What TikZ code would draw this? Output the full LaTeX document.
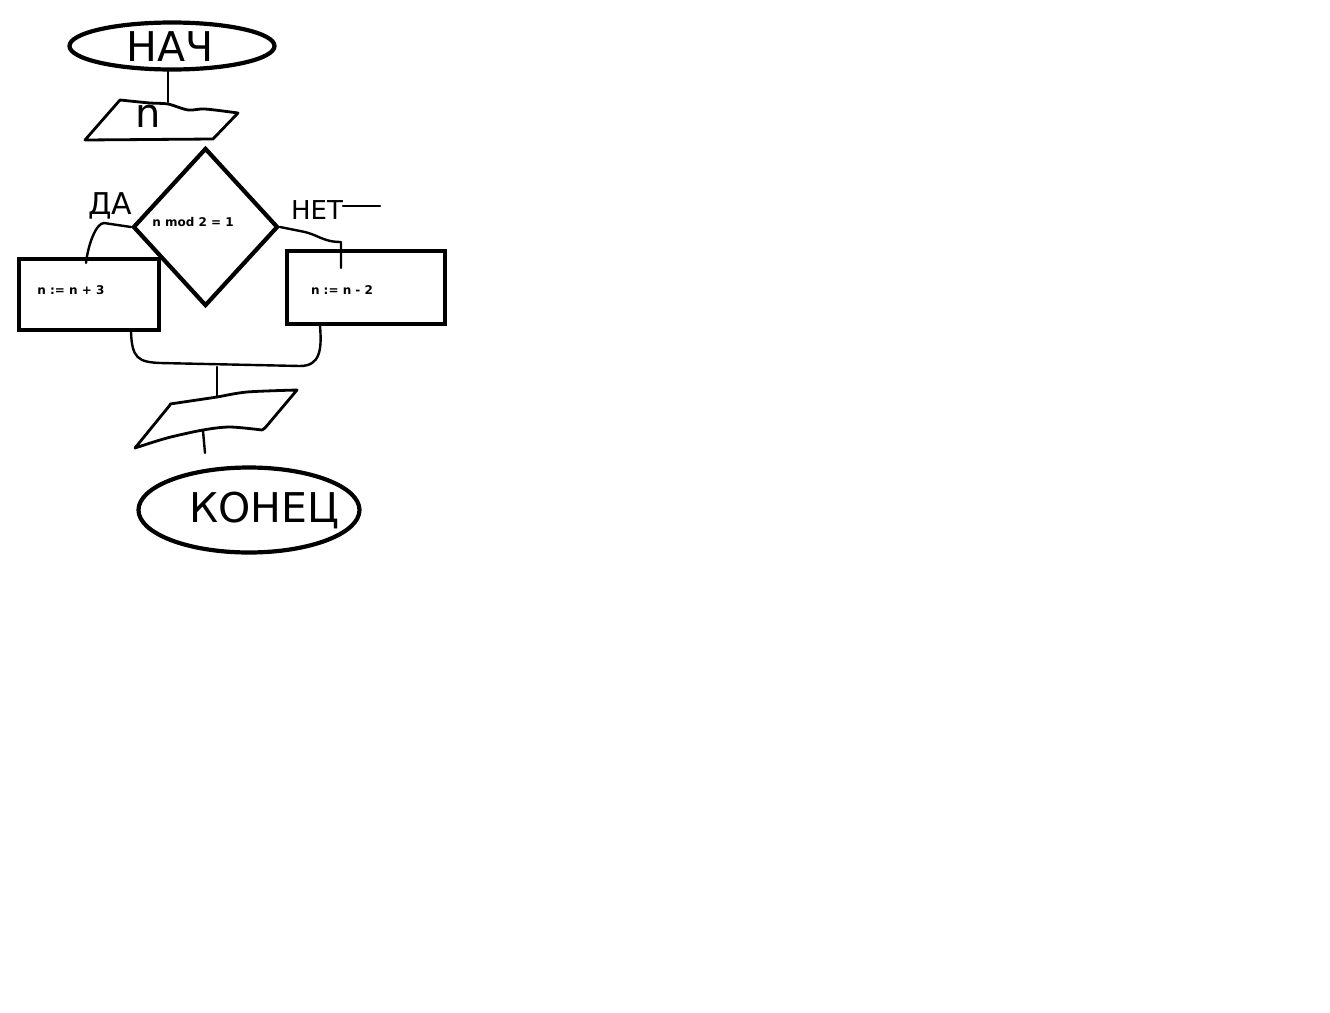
\documentclass[tikz,border=0pt]{standalone}
\usepackage{fontspec}
\setmainfont{DejaVu Sans}
\usetikzlibrary{shapes.geometric}
\begin{document}
\begin{tikzpicture}[x=1pt,y=-1pt,
  shapeline/.style={draw=black, line width=4.2pt, inner sep=0pt},
  paraline/.style={draw=black, line width=2.8pt, line cap=round, line join=round},
  conn/.style={draw=black, line width=2.4pt, line cap=round, line join=round},
  hand/.style={inner sep=0pt, font=\fontsize{#1}{#1}\selectfont},
  code/.style={inner sep=0pt, font=\bfseries\fontsize{12}{14}\selectfont},
]
\fill[white] (0,0) rectangle (1330,1012);
\useasboundingbox (0,0) rectangle (1330,1012);

% start terminal
\node[shapeline, ellipse, minimum width=205, minimum height=47] (start) at (172,46) {};
\node[hand=41] (starttxt) at (170,47) {НАЧ};

% input parallelogram
\coordinate (inTop) at (168,102);
\draw[paraline] plot[smooth] coordinates {(120,100) (150,103) (168,104) (188,110) (205,109) (238,113)}
  -- (213,139) -- (85,140) -- cycle;
\node[hand=40] (input) at (148,116) {n};
\draw[conn] ([xshift=-4pt]start.south) -- (inTop);

% decision
\node[shapeline, diamond, minimum width=145, minimum height=158] (cond) at (205.5,227) {};
\node[code] (condtxt) at (193,222) {n mod 2 = 1};

% branch boxes
\node[shapeline, rectangle, minimum width=140, minimum height=71] (yes) at (89,294.5) {};
\node[code] (yestxt) at (71,290) {n := n + 3};
\node[shapeline, rectangle, minimum width=158, minimum height=73] (no) at (366,287.5) {};
\node[code] (notxt) at (342,290) {n := n - 2};

% branch labels
\node[hand=30] (yeslbl) at (110,206) {ДА};
\node[hand=26] (nolbl) at (317,210) {НЕТ};
\coordinate (netend) at (380,206);
\draw[conn] (343,206) -- (netend);

% branch connectors
\coordinate (yesIn) at (86,263);
\coordinate (noIn) at (341,268);
\draw[conn] (cond.west) -- (104,223) .. controls (96,223) and (88,245) .. (yesIn);
\draw[conn] (cond.east) -- (300,231) .. controls (318,234) and (322,242) .. (341,242) -- (noIn);

% merge
\coordinate (yesOut) at (131,332);
\coordinate (noOut) at (320,326);
\coordinate (mergeMid) at (217,367);
\coordinate (outTop) at (217,397);
\draw[conn] (yesOut) .. controls (132,358) and (138,362) .. (160,363) -- (300,366)
  .. controls (320,366) and (322,350) .. (noOut);
\draw[conn] (mergeMid) -- (outTop);

% output parallelogram
\draw[paraline] plot[smooth] coordinates {(170,404) (197,400) (217,397) (247,392) (297,390)}
  -- (265,428) -- (262,430)
  plot[smooth] coordinates {(262,430) (230,427) (203,430) (167,438) (135,448)}
  -- (170,405);
\coordinate (outBot) at (205,453);
\draw[conn] (203,431) -- (outBot);

% end terminal
\node[shapeline, ellipse, minimum width=221, minimum height=85] (finish) at (249,510) {};
\node[hand=41] (finishtxt) at (264,510) {КОНЕЦ};
\end{tikzpicture}
\end{document}
